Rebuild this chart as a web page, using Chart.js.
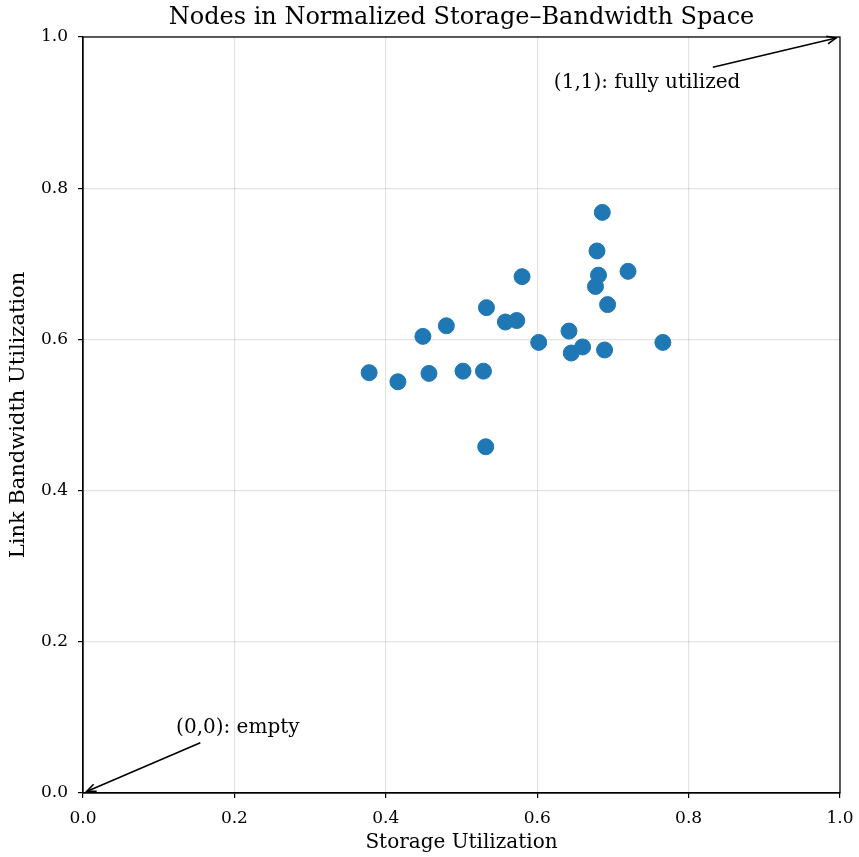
<!DOCTYPE html>
<html>
<head>
<meta charset="utf-8">
<script src="https://cdn.jsdelivr.net/npm/chart.js@4"></script>
<style>
  body { margin: 0; background: #fff; }
  #wrap { width: 859px; height: 857px; }
</style>
</head>
<body>
<div id="wrap"><canvas id="nodesChart"></canvas></div>
<script>
// storage / bandwidth utilization per node
const storageUtil = [0.686, 0.679, 0.681, 0.720, 0.677, 0.580, 0.693, 0.533, 0.558, 0.573, 0.480, 0.449,
                     0.642, 0.602, 0.766, 0.645, 0.660, 0.689, 0.378, 0.416, 0.457, 0.502, 0.529, 0.532];
const bandwidthUtil = [0.768, 0.717, 0.685, 0.690, 0.670, 0.683, 0.646, 0.642, 0.623, 0.625, 0.618, 0.604,
                       0.611, 0.596, 0.596, 0.582, 0.590, 0.586, 0.556, 0.544, 0.555, 0.558, 0.558, 0.458];
const tickValues = [0.0, 0.2, 0.4, 0.6, 0.8, 1.0];

// annotations: [label, text x, text y, arrow tail x, arrow tail y, head x, head y]
const annotations = [
    ['(1,1): fully utilized', 0.622, 0.9325, 0.832, 0.960, 1.0, 1.0],
    ['(0,0): empty', 0.123, 0.080, 0.155, 0.0665, 0.0, 0.0]
];

const FONT = 'DejaVu Serif';

const points = storageUtil.map((x, i) => ({x: x, y: bandwidthUtil[i]}));

// frame + annotation arrows, title centred over the plot area
const extrasPlugin = {
    id: 'extras',
    afterLayout(chart) {
        if (chart.titleBlock) {
            chart.titleBlock.left = chart.chartArea.left;
            chart.titleBlock.right = chart.chartArea.right;
        }
    },
    afterDraw(chart) {
        const {ctx, chartArea: a, scales: {x, y}} = chart;
        ctx.save();
        ctx.strokeStyle = '#000';
        ctx.lineWidth = 1.25;
        ctx.strokeRect(a.left, a.top, a.right - a.left, a.bottom - a.top);

        annotations.forEach(an => {
            const tx = x.getPixelForValue(an[1]), ty = y.getPixelForValue(an[2]);
            const sx = x.getPixelForValue(an[3]), sy = y.getPixelForValue(an[4]);
            const hx = x.getPixelForValue(an[5]), hy = y.getPixelForValue(an[6]);
            ctx.fillStyle = '#000';
            ctx.font = '20px ' + FONT;
            ctx.textBaseline = 'alphabetic';
            ctx.textAlign = 'left';
            ctx.fillText(an[0], tx, ty);
            const ang = Math.atan2(hy - sy, hx - sx);
            const ex = hx - 4 * Math.cos(ang), ey = hy - 4 * Math.sin(ang);
            ctx.lineWidth = 1.6;
            ctx.beginPath();
            ctx.moveTo(sx, sy);
            ctx.lineTo(ex, ey);
            ctx.stroke();
            ctx.beginPath();
            ctx.moveTo(ex - 10 * Math.cos(ang - 0.4), ey - 10 * Math.sin(ang - 0.4));
            ctx.lineTo(ex, ey);
            ctx.lineTo(ex - 10 * Math.cos(ang + 0.4), ey - 10 * Math.sin(ang + 0.4));
            ctx.stroke();
        });
        ctx.restore();
    }
};

const config = {
    type: 'scatter',
    data: {
        datasets: [{
            label: 'Nodes',
            data: points,
            backgroundColor: '#1f77b4',
            borderColor: '#1f77b4',
            pointRadius: 8,
            pointHoverRadius: 8
        }]
    },
    options: {
        responsive: true,
        maintainAspectRatio: false,
        animation: false,
        layout: { padding: { right: 19, left: 0, bottom: 0, top: 0 } },
        plugins: {
            legend: { display: false },
            tooltip: { enabled: false },
            title: {
                display: true,
                text: 'Nodes in Normalized Storage\u2013Bandwidth Space',
                color: '#000',
                font: { family: FONT, size: 24, weight: 'normal' },
                padding: { top: 3, bottom: 5.2 }
            }
        },
        scales: {
            x: {
                type: 'linear',
                min: 0,
                max: 1,
                afterBuildTicks: (s) => { s.ticks = tickValues.map(v => ({value: v})); },
                afterFit: (s) => { s.height = 64; s.paddingLeft = 0; s.paddingRight = 0; },
                ticks: {
                    color: '#000',
                    font: { family: FONT, size: 17 },
                    padding: 10,
                    callback: (v) => v.toFixed(1)
                },
                grid: { color: 'rgba(0,0,0,0.11)', tickColor: '#000', tickLength: 5, lineWidth: 1.2 },
                border: { display: true, color: '#000', width: 1.25 },
                title: {
                    display: true,
                    text: 'Storage Utilization',
                    color: '#000',
                    font: { family: FONT, size: 20 },
                    padding: { top: 0, bottom: 2 }
                }
            },
            y: {
                type: 'linear',
                min: 0,
                max: 1,
                afterBuildTicks: (s) => { s.ticks = tickValues.map(v => ({value: v})); },
                afterFit: (s) => { s.width = 83; s.paddingTop = 0; s.paddingBottom = 0; },
                ticks: {
                    color: '#000',
                    font: { family: FONT, size: 17 },
                    padding: 10,
                    callback: (v) => v.toFixed(1)
                },
                grid: { color: 'rgba(0,0,0,0.11)', tickColor: '#000', tickLength: 5, lineWidth: 1.2 },
                border: { display: true, color: '#000', width: 1.25 },
                title: {
                    display: true,
                    text: 'Link Bandwidth Utilization',
                    color: '#000',
                    font: { family: FONT, size: 21 },
                    padding: { top: 6, bottom: 0 }
                }
            }
        }
    },
    plugins: [extrasPlugin]
};

const myChart = new Chart(document.getElementById('nodesChart'), config);
</script>
</body>
</html>
